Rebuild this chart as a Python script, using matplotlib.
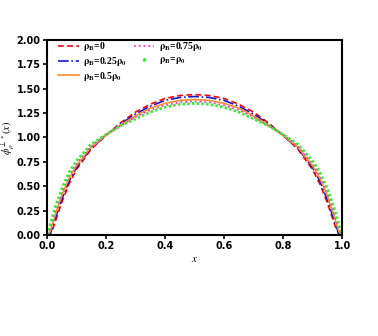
import matplotlib
matplotlib.use("Agg")
import matplotlib.pyplot as plt
from matplotlib.lines import Line2D

x_pts = [0.0, 0.01, 0.02, 0.03, 0.05, 0.075, 0.1, 0.15, 0.2, 0.25, 0.3, 0.35, 0.4, 0.45, 0.5,
         0.55, 0.6, 0.65, 0.7, 0.75, 0.8, 0.85, 0.9, 0.925, 0.95, 0.97, 0.98, 0.99, 1.0]
phi_0 = [0.0, 0.0, 0.06, 0.15, 0.33, 0.52, 0.67, 0.88, 1.02, 1.15, 1.26, 1.34, 1.40, 1.43, 1.44,
         1.43, 1.40, 1.34, 1.26, 1.15, 1.02, 0.88, 0.67, 0.52, 0.33, 0.15, 0.06, 0.0, 0.0]
phi_025 = [0.0, 0.0, 0.09, 0.18, 0.36, 0.55, 0.69, 0.89, 1.02, 1.14, 1.24, 1.32, 1.38, 1.41, 1.42,
           1.41, 1.38, 1.32, 1.24, 1.14, 1.02, 0.89, 0.69, 0.55, 0.36, 0.18, 0.09, 0.0, 0.0]
phi_05 = [0.0, 0.03, 0.12, 0.22, 0.40, 0.58, 0.71, 0.90, 1.02, 1.13, 1.22, 1.30, 1.35, 1.38, 1.39,
          1.38, 1.35, 1.30, 1.22, 1.13, 1.02, 0.90, 0.71, 0.58, 0.40, 0.22, 0.12, 0.03, 0.0]
phi_075 = [0.0, 0.06, 0.16, 0.26, 0.43, 0.61, 0.73, 0.91, 1.03, 1.12, 1.21, 1.28, 1.33, 1.36, 1.37,
           1.36, 1.33, 1.28, 1.21, 1.12, 1.03, 0.91, 0.73, 0.61, 0.43, 0.26, 0.16, 0.06, 0.0]
phi_1 = [0.0, 0.09, 0.20, 0.30, 0.47, 0.64, 0.76, 0.93, 1.03, 1.12, 1.19, 1.26, 1.31, 1.34, 1.35,
         1.34, 1.31, 1.26, 1.19, 1.12, 1.03, 0.93, 0.76, 0.64, 0.47, 0.30, 0.20, 0.09, 0.0]

labels = [r"$\mathbf{\rho_B}$=0", r"$\mathbf{\rho_B}$=0.25$\mathbf{\rho_0}$",
          r"$\mathbf{\rho_B}$=0.5$\mathbf{\rho_0}$", r"$\mathbf{\rho_B}$=0.75$\mathbf{\rho_0}$",
          r"$\mathbf{\rho_B}$=$\mathbf{\rho_0}$"]

plt.rcParams["mathtext.fontset"] = "stix"

fig = plt.figure(figsize=(3.78, 3.36), dpi=100)
ax = fig.add_axes([0.124, 0.301, 0.781, 0.58])

ax.plot(x_pts, phi_0, color="red", linestyle="--", lw=1.2, dashes=(3.5, 2))
ax.plot(x_pts, phi_025, color="#1515d0", linestyle="-.", lw=1.2)
ax.plot(x_pts, phi_05, color="#ff8c28", linestyle="-", lw=1.2)
ax.plot(x_pts, phi_075, color="#ff33cc", linestyle=":", lw=1.3)
ax.plot(x_pts, phi_1, color="#33ee33", linestyle=":", lw=2.0, dashes=(0.9, 0.8))

handles = [
    Line2D([], [], color="red", linestyle="--", lw=1.2, dashes=(3.5, 2)),
    Line2D([], [], color="#1515d0", linestyle="-.", lw=1.2),
    Line2D([], [], color="#ff8c28", linestyle="-", lw=1.2),
    Line2D([], [], color="#ff33cc", linestyle=":", lw=1.3),
    Line2D([], [], color="#33ee33", linestyle="none", marker="^", ms=2),
]
ax.legend(handles, labels, loc="upper left", ncol=2, frameon=False,
          prop={"family": "Liberation Serif", "weight": "bold", "size": 7},
          handlelength=2.1, handletextpad=0.5, columnspacing=0.7, labelspacing=0.2,
          borderaxespad=0.0, bbox_to_anchor=(0.025, 1.02))

ax.set_xlim(0, 1)
ax.set_ylim(0, 2)
ax.set_xticks([0.0, 0.2, 0.4, 0.6, 0.8, 1.0])
ax.set_yticks([0.0, 0.25, 0.5, 0.75, 1.0, 1.25, 1.5, 1.75, 2.0])
ax.set_yticklabels(["0.00", "0.25", "0.50", "0.75", "1.00", "1.25", "1.50", "1.75", "2.00"])
for lab in ax.get_xticklabels() + ax.get_yticklabels():
    lab.set_fontweight("bold")
    lab.set_fontsize(7)
ax.tick_params(width=1.2, length=3, pad=1.5)
for sp in ax.spines.values():
    sp.set_linewidth(1.5)

ax.set_xlabel(r"$x$", fontsize=8, labelpad=2)
ax.set_ylabel(r"$\phi_{\rho}^{\perp*}(x)$", fontsize=7.5)
ax.yaxis.set_label_coords(-0.1, 0.5)

fig.savefig("out.png", dpi=100)
